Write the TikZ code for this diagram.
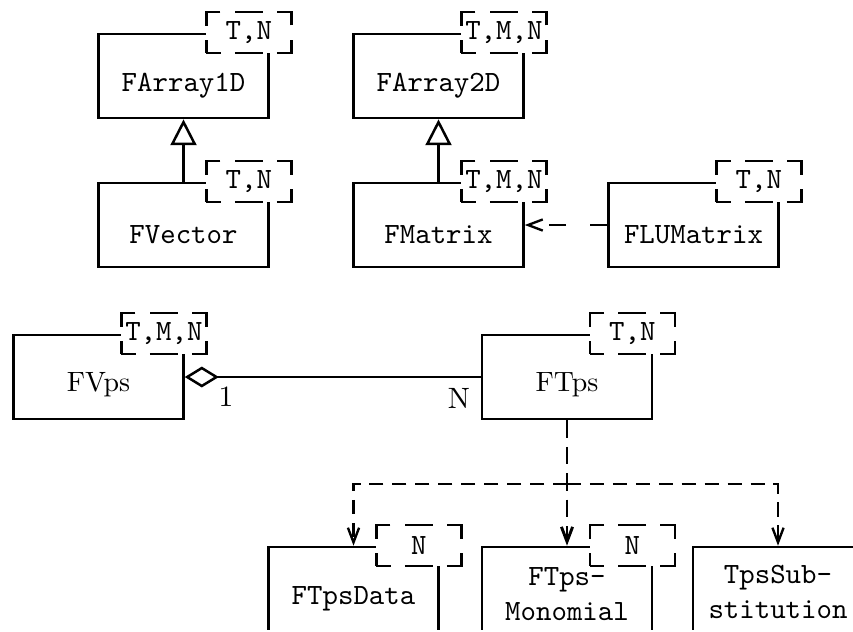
\documentclass[tikz,border=0pt]{standalone}
\usetikzlibrary{arrows.meta}

\begin{document}
\begin{tikzpicture}[x=0.34pt,y=-0.34pt,
  cls/.style={draw,line width=0.85pt,minimum width=57.8pt,minimum height=28.6pt,inner sep=0pt},
  tmpl/.style={draw,fill=white,line width=0.8pt,dash pattern=on 9.5pt off 4.8pt,dash phase=4.6pt,
    minimum width=28.9pt,minimum height=13.9pt,inner sep=0pt,font=\ttfamily},
  dep/.style={line width=0.8pt,dash pattern=on 4.8pt off 3pt,-{Straight Barb[length=5pt,width=3.8pt]}},
  inh/.style={line width=0.85pt,-{Triangle[open,length=8.8pt,width=8.8pt]}}]
  \useasboundingbox (0,0) rectangle (853,631);
  \clip (0,0) rectangle (853,629.5);
  % class boxes with their template parameters
  \foreach \n/\x/\y/\p in {fa1/183.5/76/{T,N},fa2/438.5/76/{T,M,N},fvec/183.5/225/{T,N},
      fmat/438.5/225/{T,M,N},flu/693.5/225/{T,N},fvps/98.5/377/{T,M,N},ftps/567/377/{T,N},
      fdata/353.5/589/N,fmono/567/589/N}
    {\node[cls] (\n) at (\x,\y) {}; \node[tmpl] (\n-t) at ([xshift=-7.1pt]\n.north east) {\p};}
  \node[cls] (fsub) at (778,589) {};
  \foreach \n/\nm in {fa1/FArray1D,fa2/FArray2D,fvec/FVector,fmat/FMatrix,flu/FLUMatrix,fdata/FTpsData}
    {\node[font=\ttfamily] (\n-l) at ([yshift=-3.4pt]\n.center) {\nm};}
  \node[font=\fontsize{9.5}{11}\selectfont] (fvps-l) at ([yshift=-2.7pt]fvps.center) {FVps};
  \node[font=\fontsize{9.5}{11}\selectfont] (ftps-l) at ([yshift=-2.7pt]ftps.center) {FTps};
  \node[font=\ttfamily,align=center] (fmono-l) at ([yshift=-1.8pt]fmono.center) {FTps-\\Monomial};
  \node[font=\ttfamily,align=center] (fsub-l) at ([yshift=-1pt]fsub.center) {TpsSub-\\stitution};
  % relations
  \draw[inh] (fvec) -- (fa1);
  \draw[inh] (fmat) -- (fa2);
  \draw[dep,dash pattern=on 5.8pt off 8.2pt] (flu) -- (fmat);
  \draw[line width=0.85pt,{Diamond[open,length=11.6pt,width=7.1pt]}-] (fvps) -- (ftps);
  \node (one) at (226,397) {1};
  \node (many) at (459,398) {N};
  \coordinate (split) at (567,484);
  \draw[dep,line width=1pt,dash pattern=on 6pt off 3pt] (ftps) -- (fmono);
  \draw[dep] (split) -| (fdata);
  \draw[dep] (split) -| (fsub);
\end{tikzpicture}
\end{document}
